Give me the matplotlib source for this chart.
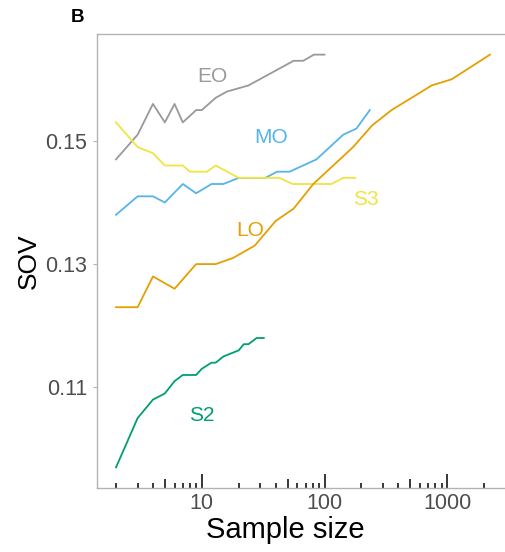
import matplotlib
matplotlib.use('Agg')
import matplotlib.pyplot as plt
from matplotlib.ticker import FixedLocator, FixedFormatter, NullFormatter, FormatStrFormatter

plt.rcParams['font.family'] = ['Liberation Sans', 'DejaVu Sans']

# SOV against sample size, one curve per group
eo_n = [2, 3, 4, 5, 6, 7, 9, 10, 13, 16, 24, 56, 67, 82, 100]
eo_sov = [0.147, 0.151, 0.156, 0.153, 0.156, 0.153, 0.155, 0.155, 0.157, 0.158,
          0.159, 0.163, 0.163, 0.164, 0.164]

mo_n = [2, 3, 4, 5, 7, 9, 12, 15, 20, 33, 41, 52, 86, 142, 182, 234]
mo_sov = [0.138, 0.141, 0.141, 0.140, 0.143, 0.1415, 0.143, 0.143, 0.144, 0.144,
          0.145, 0.145, 0.147, 0.151, 0.152, 0.155]

s3_n = [2, 3, 4, 5, 7, 8, 11, 13, 20, 43, 55, 114, 142, 178]
s3_sov = [0.153, 0.149, 0.148, 0.146, 0.146, 0.145, 0.145, 0.146, 0.144, 0.144,
          0.143, 0.143, 0.144, 0.144]

lo_n = [2, 3, 4, 6, 9, 13, 18, 27, 40, 56, 81, 171, 244, 352, 747, 1087, 2230]
lo_sov = [0.123, 0.123, 0.128, 0.126, 0.130, 0.130, 0.131, 0.133, 0.137, 0.139,
          0.143, 0.149, 0.1525, 0.155, 0.159, 0.160, 0.164]

s2_n = [2, 3, 4, 5, 6, 7, 9, 10, 12, 13, 15, 20, 22, 24, 28, 32]
s2_sov = [0.097, 0.105, 0.108, 0.109, 0.111, 0.112, 0.112, 0.113, 0.114, 0.114,
          0.115, 0.116, 0.117, 0.117, 0.118, 0.118]

group_names = ['EO', 'MO', 'S3', 'LO', 'S2']
group_colors = ['#999999', '#56B4E9', '#F0E442', '#E69F00', '#009E73']

# where each group name sits (baseline)
label_n = [12.1, 36.7, 218, 24.7, 10.0]
label_sov = [0.1596, 0.1496, 0.1396, 0.1346, 0.1046]

y_ticks = [0.11, 0.13, 0.15]
x_major = [10, 100, 1000]
x_major_labels = ['10', '100', '1000']

fig = plt.figure(figsize=(5.06, 5.52), dpi=100)
ax = fig.add_axes([0.1923, 0.1159, 0.8130, 0.8225])

all_n = [eo_n, mo_n, s3_n, lo_n, s2_n]
all_sov = [eo_sov, mo_sov, s3_sov, lo_sov, s2_sov]
for n, sov, c in zip(all_n, all_sov, group_colors):
    ax.plot(n, sov, color=c, lw=1.3)

for name, x, y, c in zip(group_names, label_n, label_sov, group_colors):
    ax.text(x, y, name, color=c, fontsize=15, ha='center', va='baseline')

ax.set_xscale('log')
ax.margins(0.05)

# log ticks drawn inside along the bottom
x_minor = [m * 10 ** k for k in range(0, 4) for m in range(2, 10) if m * 10 ** k < 3500]
ax.xaxis.set_major_locator(FixedLocator(x_major))
ax.xaxis.set_major_formatter(FixedFormatter(x_major_labels))
ax.xaxis.set_minor_locator(FixedLocator(x_minor))
ax.xaxis.set_minor_formatter(NullFormatter())
ax.tick_params(axis='x', which='major', direction='in', length=10, width=1.1,
               color='black', labelsize=15.5, labelcolor='#4d4d4d', pad=3.5)
ax.tick_params(axis='x', which='minor', direction='in', length=3.4, width=1.1,
               color='black')
minor_locs = ax.xaxis.get_minorticklocs()
for t, loc in zip(ax.xaxis.get_minor_ticks(len(minor_locs)), minor_locs):
    if str(int(round(loc)))[0] == '5':
        t.tick1line.set_markersize(6.7)

ax.yaxis.set_major_locator(FixedLocator(y_ticks))
ax.yaxis.set_major_formatter(FormatStrFormatter('%.2f'))
ax.tick_params(axis='y', direction='out', length=3.2, width=0.8, color='#b3b3b3',
               labelsize=15.5, labelcolor='#4d4d4d', pad=4.3)

for s in ['left', 'top', 'bottom']:
    ax.spines[s].set_color('#b3b3b3')
    ax.spines[s].set_linewidth(1.0)
ax.spines['right'].set_visible(False)

ax.set_xlabel('Sample size', fontsize=21)
ax.set_ylabel('SOV', fontsize=19)
ax.xaxis.set_label_coords(0.456, -0.062)
ax.yaxis.set_label_coords(-0.137, 0.5)

fig.text(77 / 506, 1 - 17 / 552, 'B', ha='center', va='center', fontsize=13.5,
         fontweight='bold')

fig.savefig('out.png', dpi=100)
